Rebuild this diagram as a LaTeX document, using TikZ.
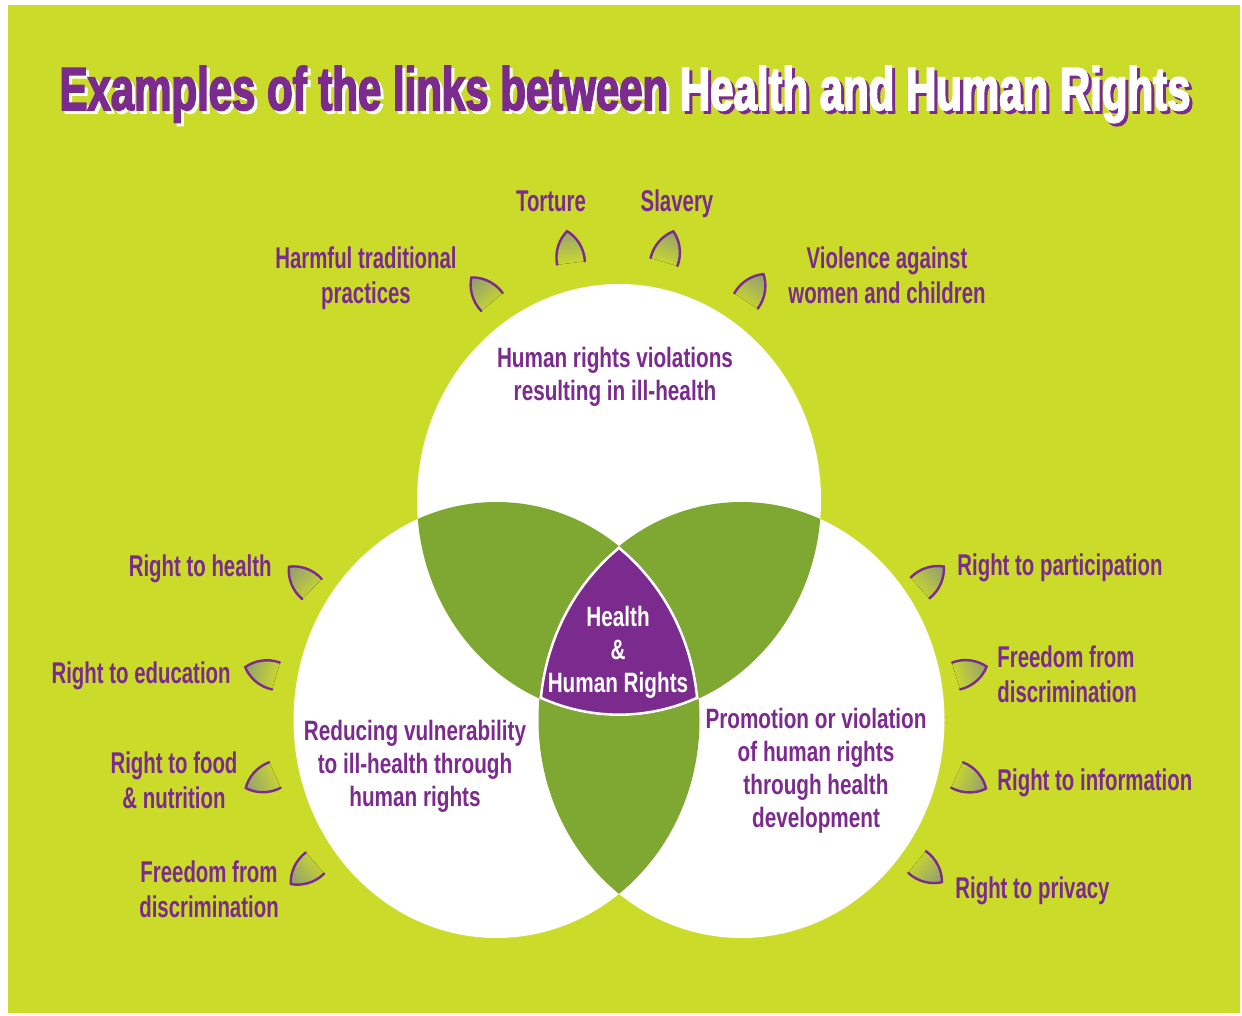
\documentclass[tikz,border=0pt]{standalone}
\usepackage{fontspec}
\newfontfamily\labfont{Liberation Sans}[FakeStretch=0.68]
\newfontfamily\cirfont{Liberation Sans}[FakeStretch=0.74]
\newfontfamily\titfont{Liberation Sans}[FakeStretch=0.688,FakeBold=2.5]
\definecolor{bg}{HTML}{CBDB2A}
\definecolor{lens}{HTML}{7FA832}
\definecolor{hrpurple}{HTML}{7B2A8E}
\definecolor{petalgrey}{HTML}{8F9878}

\begin{document}
\begin{tikzpicture}[x=0.5pt,y=-0.5pt,
  lab/.style={font=\labfont\bfseries\fontsize{15}{17.5}\selectfont, text=hrpurple, inner sep=0pt},
  ctext/.style={font=\cirfont\bfseries\fontsize{14}{16.5}\selectfont, text=hrpurple, inner sep=0pt, align=center},
  titletext/.style={font=\titfont\bfseries\fontsize{30.5}{36}\selectfont, inner sep=0pt, anchor=base},
  topE/.style={insert path={(619,500) ellipse [x radius=101pt, y radius=108pt]}},
  leftE/.style={insert path={(496.5,720) ellipse [x radius=101.5pt, y radius=109pt]}},
  rightE/.style={insert path={(741.5,720) ellipse [x radius=101.5pt, y radius=109pt]}},
  pics/petal/.style={code={
    % greyish tone towards the tip, fading into the panel colour at the open end
    \pgfmathsetmacro\petalang{#1-90}
    \begin{scope}[rotate=#1]
      \fill[top color=petalgrey!85!bg, bottom color=bg, shading angle=\petalang]
        (0,14) .. controls (14,15) and (26,8) .. (32,0)
        .. controls (26,-8) and (14,-15) .. (0,-14) -- cycle;
      \draw[hrpurple, line width=1.2pt, line cap=round]
        (0,14) .. controls (14,15) and (26,8) .. (32,0)
        .. controls (26,-8) and (14,-15) .. (0,-14);
    \end{scope}
  }}
]
% canvas and background panel
\useasboundingbox (0,0) rectangle (1242,1016);
\fill[white] (0,0) rectangle (1242,1016);
\fill[bg] (8,5) rectangle (1240,1013);

% title with offset shadow
\node[titletext] (titleshadow) at (628,113)
  {\textcolor{white}{Examples of the links between} \textcolor{hrpurple}{Health and Human Rights}};
\node[titletext] (title) at (625,110)
  {\textcolor{hrpurple}{Examples of the links between} \textcolor{white}{Health and Human Rights}};

% three overlapping discs
\fill[white, topE];
\fill[white, leftE];
\fill[white, rightE];

% pairwise overlaps
\begin{scope}
  \clip[topE];
  \fill[lens, leftE];
  \fill[lens, rightE];
\end{scope}
\begin{scope}
  \clip[leftE];
  \fill[lens, rightE];
\end{scope}

% common core
\begin{scope}
  \clip[topE];
  \clip[leftE];
  \clip[rightE];
  \fill[hrpurple] (400,400) rectangle (850,850);
  \draw[white, line width=2.6pt, topE];
  \draw[white, line width=2.6pt, leftE];
  \draw[white, line width=2.6pt, rightE];
\end{scope}

% petals around the discs
\pic (harmfulpetal)  at (492,302) {petal=130};
\pic (torturepetal)  at (571,263) {petal=97};
\pic (slaverypetal)  at (664,262) {petal=73};
\pic (violencepetal) at (746,301) {petal=57};
\pic (healthpetal)   at (312,589) {petal=136};
\pic (educpetal)     at (276,676) {petal=164};
\pic (foodpetal)     at (275,775) {petal=204};
\pic (lfreepetal)    at (315,863) {petal=221};
\pic (partpetal)     at (920,588) {petal=42};
\pic (rfreepetal)    at (956,676) {petal=17};
\pic (infopetal)     at (957,775) {petal=-25};
\pic (privpetal)     at (917,862) {petal=-39};

% outer labels (multi-line nodes are placed by their last baseline)
\node[lab, anchor=base] (torture) at (551,212) {Torture};
\node[lab, anchor=base] (slavery) at (677,212) {Slavery};
\node[lab, anchor=base, align=center] (harmful) at (366,304) {Harmful traditional\\practices};
\node[lab, anchor=base, align=center] (violence) at (887,304) {Violence against\\women and children};
\node[lab, anchor=base east] (rhealth) at (272,576) {Right to health};
\node[lab, anchor=base east] (reducation) at (231,683) {Right to education};
\node[lab, anchor=base, align=center] (rfood) at (174,808) {Right to food\\\& nutrition};
\node[lab, anchor=base, align=center] (lfreedom) at (209,917) {Freedom from\\discrimination};
\node[lab, anchor=base west] (rpart) at (957,575) {Right to participation};
\node[lab, anchor=base west, align=left] (rfreedom) at (997,702) {Freedom from\\discrimination};
\node[lab, anchor=base west] (rinfo) at (997,790) {Right to information};
\node[lab, anchor=base west] (rprivacy) at (955,898) {Right to privacy};

% texts inside the discs
\node[ctext, anchor=base] (toptext) at (615,400) {Human rights violations\\resulting in ill-health};
\node[ctext, anchor=base] (lefttext) at (415,806) {Reducing vulnerability\\to ill-health through\\human rights};
\node[ctext, anchor=base] (righttext) at (816,827) {Promotion or violation\\of human rights\\through health\\development};
\node[ctext, anchor=base, text=white] (coretext) at (618,692) {Health\\\&\\Human Rights};
\end{tikzpicture}
\end{document}
